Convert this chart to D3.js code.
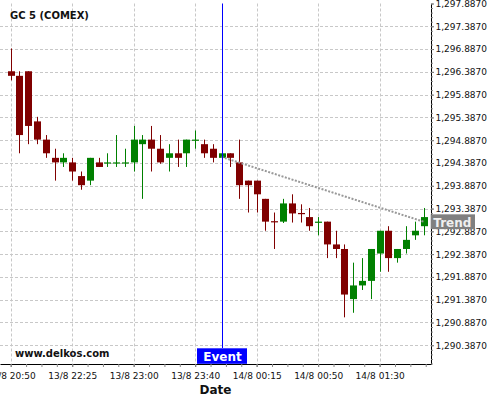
<!DOCTYPE html>
<html><head><meta charset="utf-8">
<script src="https://cdn.jsdelivr.net/npm/d3@7"></script>
<style>body{margin:0;background:#fff} svg{display:block} text{font-family:"DejaVu Sans",sans-serif}</style>
</head><body><svg id="chart" width="500" height="400"></svg>
<script>
// ---- data ----
const title = "GC 5 (COMEX)";
const opens  = [1296.4,1296.3,1296.4,1295.3,1294.9,1294.5,1294.4,1294.4,1294.1,1294.0,1294.4,1294.4,1294.4,1294.4,1294.4,1294.8,1294.9,1294.7,1294.5,1294.6,1294.6,1294.9,1294.8,1294.7,1294.5,1294.6,1294.4,1294.0,1294.0,1293.6,1293.11,1293.1,1293.5,1293.29,1293.2,1293.1,1293.1,1292.6,1292.5,1291.4,1291.7,1291.8,1292.4,1292.9,1292.3,1292.5,1292.8,1293.0];
const highs  = [1296.9,1296.4,1296.4,1295.4,1295.0,1294.7,1294.6,1294.5,1294.2,1294.5,1294.5,1294.6,1295.0,1294.7,1295.2,1295.0,1295.2,1295.0,1294.8,1294.9,1294.9,1295.1,1294.9,1294.8,1294.6,1294.6,1294.9,1294.0,1294.0,1293.6,1293.3,1293.6,1293.7,1293.48,1293.4,1293.2,1293.1,1292.9,1292.6,1292.2,1292.3,1292.5,1292.9,1293.0,1292.5,1293.0,1293.1,1293.4];
const lows   = [1296.2,1294.6,1294.8,1294.8,1294.5,1294.0,1294.3,1294.0,1293.8,1293.9,1294.3,1294.3,1294.3,1294.3,1294.2,1293.6,1294.2,1294.37,1294.2,1294.3,1294.3,1294.7,1294.5,1294.4,1294.5,1294.3,1293.6,1293.3,1293.3,1292.9,1292.5,1293.07,1293.08,1293.08,1292.9,1292.8,1292.3,1292.3,1291.0,1291.1,1291.6,1291.4,1292.0,1292.0,1292.2,1292.4,1292.7,1292.8];
const closes = [1296.3,1295.0,1295.2,1294.9,1294.6,1294.4,1294.5,1294.2,1293.9,1294.5,1294.3,1294.4,1294.4,1294.4,1294.9,1294.9,1294.7,1294.4,1294.6,1294.5,1294.9,1294.9,1294.6,1294.5,1294.6,1294.5,1293.9,1293.9,1293.7,1293.1,1293.1,1293.5,1293.28,1293.28,1293.0,1293.1,1292.6,1292.5,1291.5,1291.7,1291.8,1292.5,1292.9,1292.3,1292.5,1292.7,1292.9,1293.2];
const xTickIdx = [0,7,14,21,28,35,42];
const xTickLabels = ["13/8 20:50","13/8 22:25","13/8 23:00","13/8 23:40","14/8 00:15","14/8 00:50","14/8 01:30"];
const yTickValues = d3.range(16).map(i => 1290.387 + 0.5*i);
const eventIdx = 24, eventLabel = "Event";
const trendIdx = [24, 47], trendVals = [1294.52, 1293.1], trendLabel = "Trend";
const xTitle = "Date", watermark = "www.delkos.com";

// ---- layout ----
const svg = d3.select("#chart");
const plotL = 0, plotR = 431, plotT = 3.5, plotB = 364;
const x = d3.scaleLinear().domain([-1.22, 47.85]).range([plotL, plotR]);
const y = d3.scaleLinear().domain([1289.976, 1297.887]).range([plotB, plotT]);
const n = opens.length;
const minorX = d3.range(0, 48, 1.75);
const minorY = d3.range(0, 80).map(i => 1289.987 + 0.1*i).filter(v => v >= y.domain()[0] - 1e-6 && v <= y.domain()[1] + 1e-6);

// grid
const grid = svg.append("g").attr("stroke", "#c8c8c8").attr("stroke-dasharray", "3,2").attr("stroke-width", 1);
grid.selectAll(".gv").data(xTickIdx).join("line")
  .attr("x1", d => Math.round(x(d)) + 0.5).attr("x2", d => Math.round(x(d)) + 0.5)
  .attr("y1", plotT).attr("y2", plotB);
grid.selectAll(".gh").data(yTickValues.filter(v => v < 1297.8)).join("line")
  .attr("x1", plotL).attr("x2", plotR)
  .attr("y1", d => Math.round(y(d)) + 0.5).attr("y2", d => Math.round(y(d)) + 0.5);

// title & watermark
svg.append("text").attr("x", 10).attr("y", 19).attr("font-size", 10).attr("font-weight", "bold").attr("fill", "#111").text(title);
svg.append("text").attr("x", 15).attr("y", 357).attr("font-size", 10).attr("font-weight", "bold").attr("fill", "#111").text(watermark);

// candles
const idx = d3.range(n);
const col = i => closes[i] >= opens[i] ? "#008000" : "#800000";
const bw = 7;
const cg = svg.append("g");
cg.selectAll(".wick").data(idx).join("line")
  .attr("x1", i => Math.round(x(i)) + 0.5).attr("x2", i => Math.round(x(i)) + 0.5)
  .attr("y1", i => y(highs[i])).attr("y2", i => y(lows[i]))
  .attr("stroke", col).attr("stroke-width", 1);
cg.selectAll(".body").data(idx).join("rect")
  .attr("x", i => Math.round(x(i)) + 0.5 - bw/2)
  .attr("width", bw)
  .attr("y", i => Math.min(y(opens[i]), y(closes[i])))
  .attr("height", i => Math.max(1.2, Math.abs(y(opens[i]) - y(closes[i]))))
  .attr("fill", col);

// trend line
svg.append("line")
  .attr("x1", x(trendIdx[0])).attr("y1", y(trendVals[0]))
  .attr("x2", x(trendIdx[1])).attr("y2", y(trendVals[1]))
  .attr("stroke", "#999").attr("stroke-width", 2).attr("stroke-dasharray", "2,1.5");

// event line
const ex = Math.round(x(eventIdx)) + 0.5;
svg.append("line").attr("x1", ex).attr("x2", ex).attr("y1", plotT).attr("y2", 348)
  .attr("stroke", "#0000ff").attr("stroke-width", 1);

// x axis
const xAxis = svg.append("g").attr("transform", `translate(0,${plotB})`)
  .call(d3.axisBottom(x).tickValues(xTickIdx).tickFormat((d, i) => xTickLabels[i]).tickSize(3).tickSizeOuter(0).tickPadding(6));
xAxis.select(".domain").attr("stroke", "#000");
xAxis.selectAll(".tick line").attr("stroke", "#666");
xAxis.selectAll("text").attr("font-size", 9).attr("font-family", "DejaVu Sans").attr("fill", "#111");
const xMinor = svg.append("g").attr("transform", `translate(0,${plotB})`)
  .call(d3.axisBottom(x).tickValues(minorX).tickFormat("").tickSize(3).tickSizeOuter(0));
xMinor.select(".domain").remove();
xMinor.selectAll(".tick line").attr("stroke", "#888");

svg.append("text").attr("x", (plotL + plotR)/2).attr("y", 394).attr("text-anchor", "middle")
  .attr("font-size", 12).attr("font-weight", "bold").attr("fill", "#111").text(xTitle);

// y axis
const fmt = d3.format(",.4f");
const yAxis = svg.append("g").attr("transform", `translate(${plotR},0)`)
  .call(d3.axisRight(y).tickValues(yTickValues).tickFormat(fmt).tickSize(3).tickSizeOuter(0).tickPadding(1.5));
yAxis.select(".domain").attr("stroke", "#000");
yAxis.selectAll(".tick line").attr("stroke", "#666");
yAxis.selectAll("text").attr("font-size", 9).attr("font-family", "DejaVu Sans").attr("fill", "#111");
const yMinor = svg.append("g").attr("transform", `translate(${plotR},0)`)
  .call(d3.axisRight(y).tickValues(minorY).tickFormat("").tickSize(2).tickSizeOuter(0));
yMinor.select(".domain").remove();
yMinor.selectAll(".tick line").attr("stroke", "#888");

// event label
const eg = svg.append("g");
eg.append("rect").attr("x", ex - 25.5).attr("y", 348.3).attr("width", 50).attr("height", 15.5).attr("fill", "#0000ff");
eg.append("text").attr("x", ex).attr("y", 360.7).attr("text-anchor", "middle")
  .attr("font-size", 12).attr("font-weight", "bold").attr("fill", "#fff").text(eventLabel);

// trend label
const ty = y(trendVals[1]);
const tg = svg.append("g");
tg.append("rect").attr("x", plotR - 0.3).attr("y", ty - 7.3).attr("width", 44.3).attr("height", 14.8).attr("fill", "#808080");
tg.append("text").attr("x", plotR + 2.3).attr("y", ty + 5).attr("font-size", 12).attr("font-weight", "bold").attr("fill", "#f0f0f0").text(trendLabel);
</script></body></html>
